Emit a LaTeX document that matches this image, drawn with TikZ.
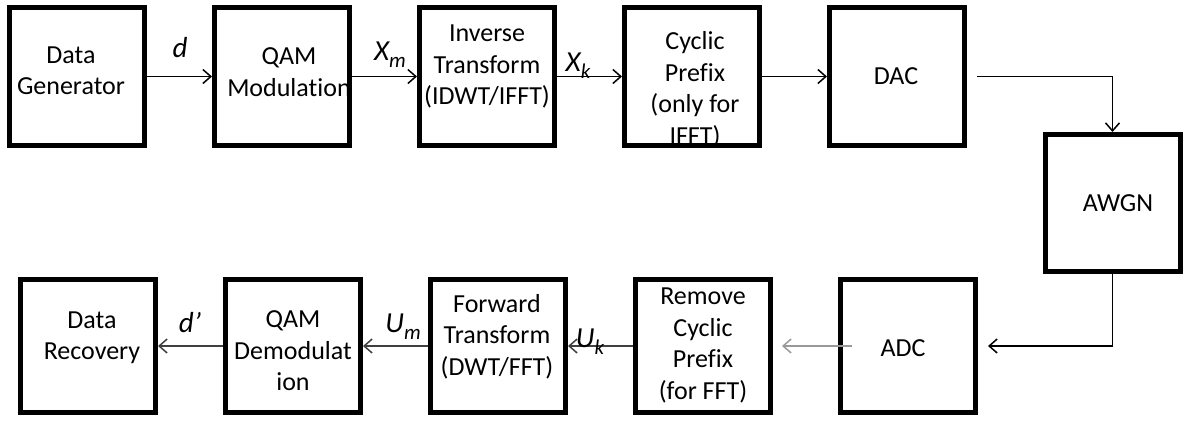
\documentclass[tikz,border=0pt]{standalone}
\usepackage{fontspec}
\setmainfont{Carlito}[Ligatures=NoCommon]
\usetikzlibrary{arrows.meta}
\newcommand{\lsub}[2]{#1\raisebox{-7pt}{\fontsize{21}{21}\selectfont #2}}
\begin{document}
\begin{tikzpicture}[x=1pt,y=-1pt,
  box/.style={draw=black, line width=5pt, minimum width=135pt, minimum height=138pt, inner sep=0pt},
  boxb/.style={box, minimum height=133pt},
  txt/.style={font=\fontsize{26}{31.5}\selectfont, align=center, inner sep=0pt},
  lbl/.style={font=\fontsize{29}{29}\selectfont\itshape, inner sep=0pt},
  arr/.style={line width=1.5pt, -{Straight Barb[length=8pt,width=14pt,line width=1.5pt]}},
]
\useasboundingbox (0,0) rectangle (1184,421);
% texts (drawn first so borders cover overflow)
\node[txt] (tdg) at (71,71) {Data\\Generator};
\node[txt] (tqam) at (289,72) {QAM\\Modulation};
\node[txt] (tit) at (487,66.5) {Inverse\\Transform\\(IDWT/IFFT)};
\node[txt] (tcp) at (695,90) {Cyclic\\Prefix\\(only for\\IFFT)};
\node[txt] (tdac) at (896,76) {DAC};
\node[txt] (tawgn) at (1118,203) {AWGN};
\node[txt] (tdr) at (92,337.5) {Data\\Recovery};
\node[txt] (tqd) at (293,351) {QAM\\Demodulat\\ion};
\node[txt] (tft) at (497,336.5) {Forward\\Transform\\(DWT/FFT)};
\node[txt] (trcp) at (703,345.5) {Remove\\Cyclic\\Prefix\\(for FFT)};
\node[txt] (tadc) at (903,348) {ADC};
% boxes
\node[box] (dg) at (77,76.5) {};
\node[box] (qam) at (282,76.5) {};
\node[box] (it) at (487,76.5) {};
\node[box] (cp) at (692,76.5) {};
\node[box] (dac) at (897,76.5) {};
\node[box, minimum height=137pt] (awgn) at (1112.5,203) {};
\node[boxb] (dr) at (88,346) {};
\node[boxb] (qd) at (293,346) {};
\node[boxb] (ft) at (498,346) {};
\node[boxb] (rcp) at (703,346) {};
\node[boxb] (adc) at (908,346) {};
% connectors
\draw[arr] (dg.east) -- (qam.west);
\draw[arr] (qam.east) -- (it.west);
\draw[arr] (it.east) -- (cp.west);
\draw[arr] (cp.east) -- (dac.west);
\coordinate (dacout) at (977,76.5);
\draw[arr] (dacout) -| (awgn.north);
\coordinate (adcin) at (988,346);
\draw[arr] (awgn.south) |- (adcin);
\coordinate (adcsrc) at (852,346);
\coordinate (rcpin) at (782,346);
\draw[arr, draw=black!40] (adcsrc) -- (rcpin);
\draw[arr, draw=black!75] (rcp.west) -- (ft.east);
\draw[arr, draw=black!75] (ft.west) -- (qd.east);
\draw[arr, draw=black!75] (qd.west) -- (dr.east);
% labels
\node[lbl] (ld) at (180,48) {d};
\node[lbl] (lxm) at (390,55) {\lsub{X}{m}};
\node[lbl] (lxk) at (578,66) {\lsub{X}{k}};
\node[lbl] (ldp) at (190,323) {d’};
\node[lbl] (lum) at (403,327) {\lsub{U}{m}};
\node[lbl] (luk) at (590,342) {\lsub{U}{k}};
\end{tikzpicture}
\end{document}
